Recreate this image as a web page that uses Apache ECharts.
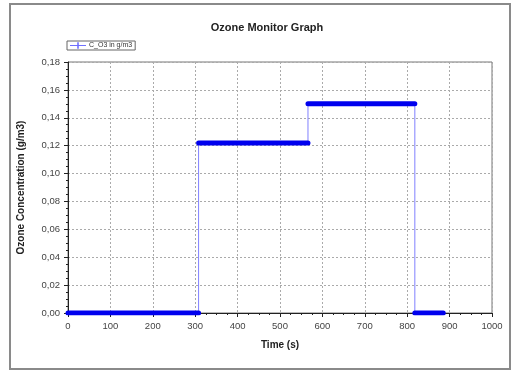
<!DOCTYPE html>
<html><head><meta charset="utf-8">
<script src="https://cdn.jsdelivr.net/npm/echarts@6/dist/echarts.min.js"></script>
<style>html,body{margin:0;padding:0;background:#fff}#c{width:517px;height:372px}</style>
</head><body><div id="c"></div>
<script>
// Data
const timeS = [0, 308, 308, 566, 566, 818, 818, 885];
const concO3 = [0, 0, 0.122, 0.122, 0.150, 0.150, 0, 0];
const xTicks = [0, 100, 200, 300, 400, 500, 600, 700, 800, 900, 1000];
const yTicks = [0, 0.02, 0.04, 0.06, 0.08, 0.10, 0.12, 0.14, 0.16, 0.18];
const seriesName = 'C_O3 in g/m3';

const thinData = timeS.map((t, i) => [t, concO3[i]]);
// thick plateaus: consecutive pairs with breaks between
const thickData = [];
for (let i = 0; i < timeS.length; i += 2) {
  thickData.push([timeS[i], concO3[i]], [timeS[i + 1], concO3[i + 1]]);
  if (i + 2 < timeS.length) thickData.push([timeS[i + 1], null]);
}

const chart = echarts.init(document.getElementById('c'), null, {renderer: 'canvas'});
chart.setOption({
  backgroundColor: '#fff',
  animation: false,
  graphic: [{
    type: 'rect', shape: {x: 10, y: 4, width: 500, height: 365},
    style: {fill: 'none', stroke: '#8a8a8a', lineWidth: 2}, silent: true, z: -1
  }],
  title: {
    text: 'Ozone Monitor Graph', left: 262, top: 17, textAlign: 'center',
    textStyle: {fontFamily: 'Liberation Sans, Arial', fontSize: 11, fontWeight: 'bold', color: '#222'}
  },
  legend: {
    data: [{name: seriesName, icon: 'path://M0,4.5 H9 V1 H11 V4.5 H20 V5.5 H11 V9 H9 V5.5 H0 Z'}],
    left: 67, top: 41, orient: 'horizontal',
    itemWidth: 16, itemHeight: 7, itemGap: 4,
    padding: [1, 3, 1, 3],
    borderColor: '#666', borderWidth: 1,
    textStyle: {fontFamily: 'Liberation Sans Narrow, Liberation Sans, Arial', fontSize: 7, color: '#333', padding: [0, 0, 0, -2]}
  },
  grid: {left: 68, right: 25, top: 62, bottom: 59, show: true, borderColor: '#777', borderWidth: 1},
  xAxis: {
    type: 'value', min: xTicks[0], max: xTicks[xTicks.length - 1], interval: 100,
    name: 'Time (s)', nameLocation: 'middle', nameGap: 27,
    nameTextStyle: {fontFamily: 'Liberation Sans, Arial', fontSize: 10, fontWeight: 'bold', color: '#222'},
    axisLine: {show: true, onZero: false, lineStyle: {color: '#222', width: 1}},
    axisTick: {show: true, length: 4, lineStyle: {color: '#222'}},
    minorTick: {show: true, splitNumber: 4, length: 2, lineStyle: {color: '#222'}},
    axisLabel: {fontFamily: 'Liberation Sans, Arial', fontSize: 9.5, color: '#444', margin: 8,
      formatter: v => String(v)},
    splitLine: {show: true, lineStyle: {color: '#aaa', type: [2, 2], width: 1}}
  },
  yAxis: {
    type: 'value', min: yTicks[0], max: yTicks[yTicks.length - 1], interval: 0.02,
    name: 'Ozone Concentration (g/m3)', nameLocation: 'middle', nameGap: 42,
    nameTextStyle: {fontFamily: 'Liberation Sans, Arial', fontSize: 10, fontWeight: 'bold', color: '#222'},
    axisLine: {show: true, lineStyle: {color: '#222', width: 1}},
    axisTick: {show: true, length: 4, lineStyle: {color: '#222'}},
    minorTick: {show: true, splitNumber: 4, length: 2, lineStyle: {color: '#222'}},
    axisLabel: {fontFamily: 'Liberation Sans, Arial', fontSize: 9.5, color: '#444', margin: 8,
      formatter: v => v.toFixed(2).replace('.', ',')},
    splitLine: {show: true, lineStyle: {color: '#aaa', type: [2, 2], width: 1}}
  },
  series: [
    {
      name: seriesName, type: 'line', data: thinData, symbol: 'none',
      color: '#7070ff',
      lineStyle: {color: '#8080ff', width: 1}, z: 2
    },
    {
      name: 'plateaus', type: 'line', data: thickData, symbol: 'none', connectNulls: false,
      color: '#0000ee',
      lineStyle: {color: '#0000ee', width: 5, cap: 'round'}, z: 3
    }
  ]
});
</script></body></html>
